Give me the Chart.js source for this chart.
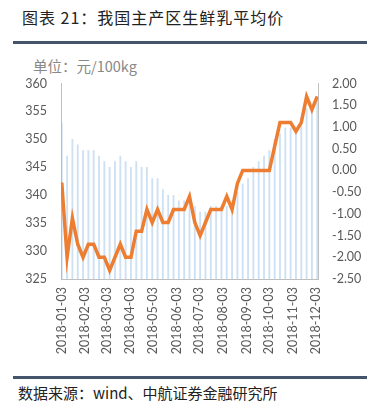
<!DOCTYPE html>
<html>
<head>
<meta charset="utf-8">
<script src="https://cdn.jsdelivr.net/npm/chart.js@4"></script>
<style>
  body { margin: 0; background: #fff; }
  #page { position: relative; width: 379px; height: 415px; overflow: hidden; }
  .txt { position: absolute; white-space: nowrap; font-family: "Noto Sans CJK SC", sans-serif; }
  #title { left: 22px; top: 7px; font-size: 16px; line-height: 20px; color: #222; letter-spacing: 1px; }
  #unit { left: 33px; top: 56px; font-size: 14.5px; line-height: 20px; color: #888; }
  #source { left: 18px; top: 383px; font-size: 15px; line-height: 20px; color: #222; }
  .rule { position: absolute; left: 13px; width: 354px; height: 3px; background: #44546a; }
  #box { position: absolute; left: 0; top: 62px; width: 379px; height: 308px; }
</style>
</head>
<body>
<div id="page">
  <div class="txt" id="title">图表 21：我国主产区生鲜乳平均价</div>
  <div class="rule" style="top:41px"></div>
  <div class="txt" id="unit">单位：元/100kg</div>
  <div id="box"><canvas id="myChart"></canvas></div>
  <div class="rule" style="top:376px"></div>
  <div class="txt" id="source">数据来源：wind、中航证券金融研究所</div>
</div>
<script>
// weekly observation dates
const weekDates = [
  '2018-01-03','2018-01-10','2018-01-17','2018-01-24','2018-01-31','2018-02-07','2018-02-14',
  '2018-02-21','2018-02-28','2018-03-07','2018-03-14','2018-03-21','2018-03-28','2018-04-04',
  '2018-04-11','2018-04-18','2018-04-25','2018-05-02','2018-05-09','2018-05-16','2018-05-23',
  '2018-05-30','2018-06-06','2018-06-13','2018-06-20','2018-06-27','2018-07-04','2018-07-11',
  '2018-07-18','2018-07-25','2018-08-01','2018-08-08','2018-08-15','2018-08-22','2018-08-29',
  '2018-09-05','2018-09-12','2018-09-19','2018-09-26','2018-10-03','2018-10-10','2018-10-17',
  '2018-10-24','2018-10-31','2018-11-07','2018-11-14','2018-11-21','2018-11-28','2018-12-05'
]

// bars, left axis (元/100kg)
const priceBars = [
  353, 347, 350, 349, 348, 348, 348, 347, 346, 345, 346, 347, 346, 345, 346, 345, 345,
  343, 343, 341, 340, 340, 339, 339, 339, 338, 337, 337, 338, 338, 338, 338, 339,
  340.5, 342, 343, 345, 346, 347, 348, 350, 351, 352, 352, 351, 354, 355.5, 355, 357
]

// orange line, right axis
const lineValues = [
  -0.28, -2.0, -1.1, -1.7, -2.0, -1.7, -1.7, -2.0, -2.0, -2.3, -2.0, -1.7, -2.0, -2.0, -1.4, -1.4, -0.9,
  -1.2, -0.9, -1.2, -1.2, -0.9, -0.9, -0.9, -0.6, -1.2, -1.5, -1.2, -0.9, -0.9, -0.9, -0.6, -0.9,
  -0.3, 0, 0, 0, 0, 0, 0, 0.55, 1.1, 1.1, 1.1, 0.9, 1.1, 1.7, 1.4, 1.7
]

const tickLabels = [
  '2018-01-03','2018-02-03','2018-03-03','2018-04-03','2018-05-03','2018-06-03',
  '2018-07-03','2018-08-03','2018-09-03','2018-10-03','2018-11-03','2018-12-03'
]

const dayOf = s => (Date.parse(s) - Date.parse('2018-01-03')) / 86400000
const tickDays = tickLabels.map(dayOf)

const labelFont = {family: 'Lato', size: 12.5}
const labelColor = '#595959'
const axisColor = '#bfbfbf'

const config = {
  type: 'bar',
  data: {
    datasets: [{
      type: 'line',
      data: weekDates.map((d, i) => ({x: dayOf(d), y: lineValues[i]})),
      yAxisID: 'y1',
      borderColor: '#ed7d31',
      borderWidth: 3.5,
      pointRadius: 0,
      tension: 0,
      order: 1
    }, {
      type: 'bar',
      data: weekDates.map((d, i) => ({x: dayOf(d), y: priceBars[i]})),
      yAxisID: 'y',
      backgroundColor: 'rgba(157,195,230,0.5)',
      barThickness: 1.2,
      order: 2
    }]
  },
  options: {
    responsive: true,
    maintainAspectRatio: false,
    animation: false,
    layout: {padding: {top: 5, left: 0, right: 0, bottom: 0}},
    plugins: {legend: {display: false}, tooltip: {enabled: false}},
    scales: {
      x: {
        type: 'linear',
        offset: false,
        min: -1,
        max: 337,
        afterBuildTicks: s => { s.ticks = tickDays.map(v => ({value: v})) },
        afterFit: s => { s.height = 91 },
        ticks: {
          callback: (v, i) => tickLabels[i],
          maxRotation: 90, minRotation: 90,
          font: labelFont, color: labelColor, padding: 8
        },
        grid: {drawOnChartArea: false, drawTicks: false, offset: false},
        border: {color: axisColor}
      },
      y: {
        position: 'left',
        min: 325, max: 360,
        afterFit: s => { s.width = 61 },
        ticks: {stepSize: 5, font: labelFont, color: labelColor, padding: 14},
        grid: {drawOnChartArea: false, drawTicks: false},
        border: {color: axisColor}
      },
      y1: {
        position: 'right',
        min: -2.5, max: 2,
        afterFit: s => { s.width = 61 },
        ticks: {stepSize: 0.5, callback: v => v.toFixed(2), font: labelFont, color: labelColor, padding: 14},
        grid: {drawOnChartArea: false, drawTicks: false},
        border: {color: axisColor}
      }
    }
  }
}

new Chart(document.getElementById('myChart'), config)
</script>
</body>
</html>
